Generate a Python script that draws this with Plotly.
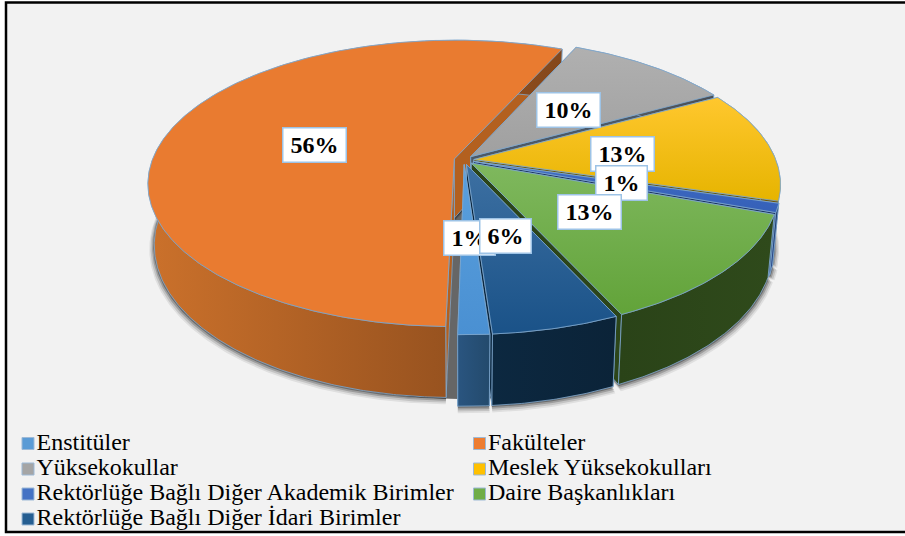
"""Exploded 3D pie: the slices are projected by hand, Plotly pies cannot tilt."""
import numpy as np
import plotly.graph_objects as go

CATEGORIES = [
    "Enstitüler",
    "Fakülteler",
    "Yüksekokullar",
    "Meslek Yüksekokulları",
    "Rektörlüğe Bağlı Diğer Akademik Birimler",
    "Daire Başkanlıkları",
    "Rektörlüğe Bağlı Diğer İdari Birimler",
]
SHARES = [1.4, 56.4, 10.3, 12.6, 1.0, 12.6, 5.7]

# [bottom of screen, top of screen]
TOP_COLORS = [
    ["#4A90D2", "#5AA0DE"],
    ["#E97B30", "#E97B30"],
    ["#A0A0A0", "#B0B0B0"],
    ["#E6B400", "#FFC72E"],
    ["#3560B8", "#3F6CC4"],
    ["#62A339", "#7FB85E"],
    ["#1A5288", "#3D70A2"],
]
WALL_COLORS = [
    ["#2A5580", "#234A6C"],
    ["#CB712B", "#84471B"],
    ["#5A5F66", "#4A4F56"],
    ["#86670A", "#6A5206"],
    ["#2A4A90", "#1F3864"],
    ["#2A4318", "#2F4A1B"],
    ["#0C2840", "#0B2338"],
]
FACE_COLORS = ["#264E70", "#B3601F", "#4D5966", "#6A5A10", "#1F3864", "#2C4519", "#0C2840"]
SWATCHES = ["#5B9BD5", "#ED7D31", "#A5A5A5", "#FFC000", "#4472C4", "#70AD47", "#255E91"]
EDGE = "#7FA8CF"

# paint order, back to front
DRAW_ORDER = [1, 2, 3, 4, 5, 6, 0]

# pie geometry, pixels
CX, CY = 464, 160
RX, RY = 302, 139.4
PERSP = 0.17
EXPLODE = 0.033
DEPTH = 59
BASE_SHRINK = 0.98
START_DEG = 176.0

LABEL_POS = [(469, 237.5), (314.5, 144.5), (568, 109.5), (622, 153.5),
             (621.5, 182.5), (589, 211.5), (505, 235.5)]
LEGEND_X = [28, 479.5]
LEGEND_Y = [443.5, 469, 494, 519]
TITLE_BITS = [("y", 403), ("p", 430), ("g", 584), ("g", 672)]


def project(X, Y, bottom=False):
    s = 1 / (1 - PERSP * Y)
    px = RX * X * s
    py = RY * Y * s
    if bottom:
        return CX + px * BASE_SHRINK, CY + py + DEPTH * s
    return CX + px, CY + py


def slice_rim(a0, a1):
    """Rim of one slice in disk coordinates, angles clockwise from the back."""
    mid = np.radians((a0 + a1) / 2)
    ex, ey = EXPLODE * np.sin(mid), -EXPLODE * np.cos(mid)
    th = np.radians(np.linspace(a0, a1, max(int(a1 - a0) * 2, 4)))
    return ex, ey, ex + np.sin(th), ey - np.cos(th)


def polygon(xs, ys, colors, edge=EDGE, kind="vertical", width=0.8):
    grad = dict(type=kind, colorscale=[[0, colors[0]], [1, colors[1]]])
    return go.Scatter(
        x=xs, y=ys, mode="lines", fill="toself", fillgradient=grad,
        line=dict(color=edge, width=width), hoverinfo="skip", showlegend=False,
    )


fig = go.Figure()

# slice angles from the shares
edges = START_DEG + np.cumsum([0] + SHARES) * 3.6
slices = [slice_rim(edges[i], edges[i + 1]) for i in range(len(SHARES))]

# floor seen through the gaps between exploded slices
th = np.radians(np.linspace(0, 360, 240))
fx, fy = project(np.sin(th), -np.cos(th), bottom=True)
fig.add_trace(go.Scatter(x=fx, y=fy, mode="lines", fill="toself", fillcolor="#666666",
                         line=dict(width=0), hoverinfo="skip", showlegend=False))

# soft shadow under the base
for grow, drop, alpha in [(1.016, 4, 0.08), (1.012, 3, 0.12), (1.007, 2, 0.2), (1.003, 1, 0.3)]:
    for i in DRAW_ORDER:
        ex, ey, rim_x, rim_y = slices[i]
        bx, by = project(np.r_[ex, rim_x], np.r_[ey, rim_y], bottom=True)
        fig.add_trace(go.Scatter(
            x=CX + (bx - CX) * grow, y=CY + DEPTH + (by - CY - DEPTH) * grow + drop,
            mode="lines", fill="toself", fillcolor=f"rgba(0,0,0,{alpha})",
            line=dict(width=0), hoverinfo="skip", showlegend=False,
        ))

for i in DRAW_ORDER:
    ex, ey, rim_x, rim_y = slices[i]
    tip_t = project(ex, ey)
    tip_b = project(ex, ey, bottom=True)
    top_x, top_y = project(rim_x, rim_y)
    bot_x, bot_y = project(rim_x, rim_y, bottom=True)

    # cut faces
    face = [FACE_COLORS[i], FACE_COLORS[i]]
    for k in (0, -1):
        fig.add_trace(polygon([tip_t[0], top_x[k], bot_x[k], tip_b[0], tip_t[0]],
                              [tip_t[1], top_y[k], bot_y[k], tip_b[1], tip_t[1]], face))

    # outer wall
    fig.add_trace(polygon(np.r_[top_x, bot_x[::-1], top_x[0]],
                          np.r_[top_y, bot_y[::-1], top_y[0]],
                          WALL_COLORS[i], kind="horizontal"))

    # top
    fig.add_trace(polygon(np.r_[tip_t[0], top_x, tip_t[0]],
                          np.r_[tip_t[1], top_y, tip_t[1]], TOP_COLORS[i]))

# legend, two columns filled row by row
for i, name in enumerate(CATEGORIES):
    fig.add_trace(go.Scatter(
        x=[LEGEND_X[i % 2]], y=[LEGEND_Y[i // 2]], mode="markers+text",
        text=[name], textposition="middle right",
        textfont=dict(family="Liberation Serif", size=24, color="#000000"),
        marker=dict(symbol="square", size=12, color=SWATCHES[i],
                    line=dict(color="#9DB9D6", width=1)),
        hoverinfo="skip", showlegend=False,
    ))

# what shows of the title, which is cut off at the top of the frame
fig.add_trace(go.Scatter(
    x=[b[1] for b in TITLE_BITS], y=[-9] * len(TITLE_BITS), mode="text",
    text=[b[0] for b in TITLE_BITS], cliponaxis=False,
    textfont=dict(family="Liberation Serif", size=20, color="#000000"),
    hoverinfo="skip", showlegend=False,
))

# percentage boxes
for share, (lx, ly) in zip(SHARES, LABEL_POS):
    label = f"{round(share)}%"
    fig.add_annotation(
        x=lx, y=ly, text=f"<b>{label}</b>", showarrow=False,
        width=62 if len(label) == 3 else 50, height=33, align="center", valign="middle",
        font=dict(family="Liberation Serif", size=24, color="#000000"),
        bgcolor="#FFFFFF", bordercolor="#9DC3E6", borderwidth=1.5, borderpad=0,
    )

fig.update_layout(
    width=905, height=536, margin=dict(l=0, r=0, t=0, b=0),
    paper_bgcolor="#FFFFFF", plot_bgcolor="#FFFFFF", showlegend=False,
    xaxis=dict(range=[0, 905], visible=False, fixedrange=True),
    yaxis=dict(range=[536, 0], visible=False, fixedrange=True),
    shapes=[dict(type="rect", x0=6, y0=2.5, x1=920, y1=532, layer="below",
                 fillcolor="#F2F2F2", line=dict(color="#000000", width=2.5))],
)

fig.write_html("out.html", config=dict(displayModeBar=False),
               post_script="document.body.style.margin='0';document.body.style.overflow='hidden';")
